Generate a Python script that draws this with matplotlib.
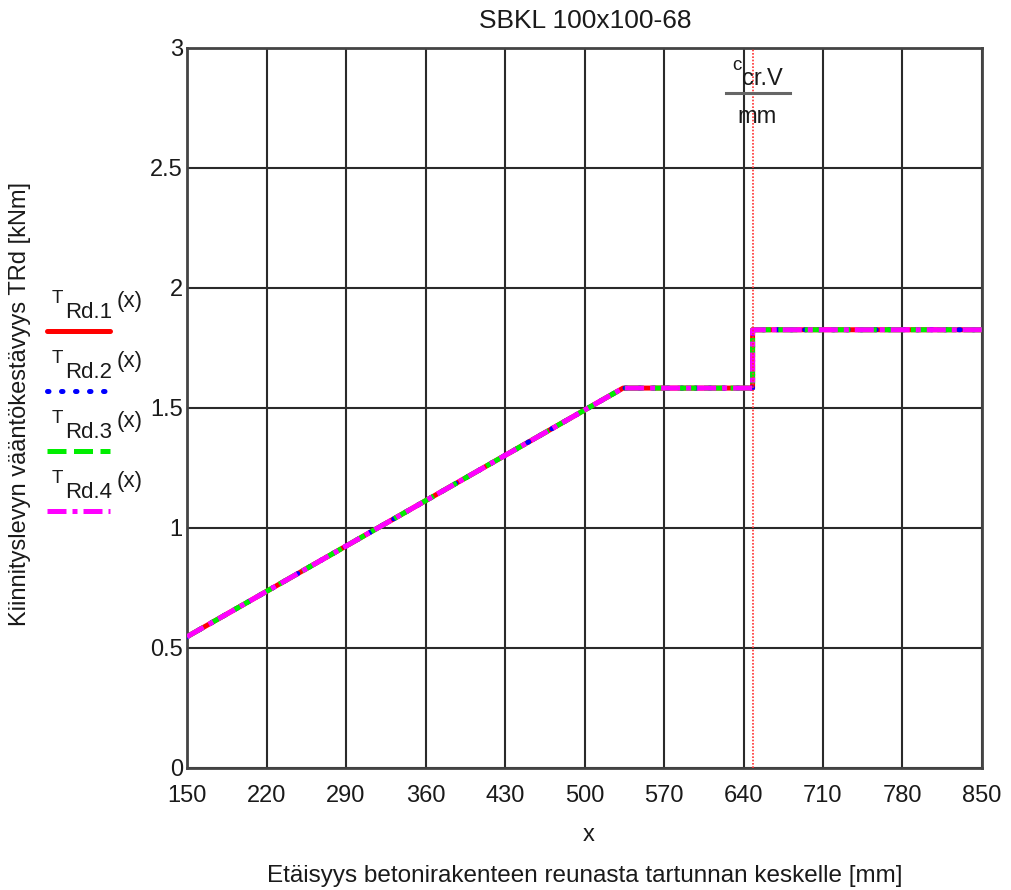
import matplotlib
matplotlib.use("Agg")
import matplotlib.pyplot as plt
from matplotlib.lines import Line2D

plt.rcParams['font.family'] = ['Liberation Sans', 'DejaVu Sans']

# Etäisyys x [mm] ja vääntökestävyydet [kNm]
x_mm = [150, 534, 648, 648, 850]
T_Rd1 = [0.547, 1.583, 1.583, 1.826, 1.826]
T_Rd2 = [0.547, 1.583, 1.583, 1.826, 1.826]
T_Rd3 = [0.547, 1.583, 1.583, 1.826, 1.826]
T_Rd4 = [0.547, 1.583, 1.583, 1.826, 1.826]
c_crV = 648

x_ticks = [150, 220, 290, 360, 430, 500, 570, 640, 710, 780, 850]
y_ticks = [0, 0.5, 1, 1.5, 2, 2.5, 3]
y_ticklabels = ["0", "0.5", "1", "1.5", "2", "2.5", "3"]

W, H = 1011, 890
fig = plt.figure(figsize=(W / 100, H / 100), dpi=100)


def fx(px):
    return px / W


def fy(py):
    return 1 - py / H


ax = fig.add_axes([fx(187), fy(768), fx(982) - fx(187), fy(48) - fy(768)])

lw = 3.6
txt = '#1a1a1a'
ax.plot(x_mm, T_Rd1, color='red', lw=lw, solid_capstyle='butt', zorder=3)
ax.plot(x_mm, T_Rd2, color='blue', lw=lw, dashes=(0.3, 2.5), dash_capstyle='round', zorder=4)
ax.plot(x_mm, T_Rd3, color='#00ee00', lw=lw, dashes=(3.8, 1.5), zorder=5)
ax.plot(x_mm, T_Rd4, color='magenta', lw=lw, dashes=(3.8, 1.2, 1.0, 1.2), zorder=6)
ax.axvline(c_crV, color='#ff3030', lw=1.2, ls=(0, (1, 1)), zorder=7)

ax.set_xlim(150, 850)
ax.set_ylim(0, 3)
ax.set_xticks(x_ticks)
ax.set_xticklabels([str(v) for v in x_ticks])
ax.set_yticks(y_ticks)
ax.set_yticklabels(y_ticklabels)
ax.tick_params(length=0, labelsize=17, colors=txt)
ax.tick_params(axis='x', pad=12)
ax.tick_params(axis='y', pad=3)
ax.grid(True, color='#2a2a2a', lw=1.5)
for s in ax.spines.values():
    s.set_color('#444444')
    s.set_linewidth(2)

# otsikko ja akselien nimet
fig.text(fx(585), fy(28), "SBKL 100x100-68", ha='center', va='baseline', fontsize=19, color=txt)
fig.text(fx(589), fy(841), "x", ha='center', va='baseline', fontsize=17, color=txt)
fig.text(fx(585), fy(882), "Etäisyys betonirakenteen reunasta tartunnan keskelle [mm]",
         ha='center', va='baseline', fontsize=17.5, color=txt)
fig.text(fx(20), fy(404), "Kiinnityslevyn vääntökestävyys TRd [kNm]", rotation=90,
         ha='center', va='center', fontsize=17, color=txt)

# c_cr.V / mm merkintä
fig.text(fx(732), fy(70), "c", ha='left', va='baseline', fontsize=13.5, color=txt)
fig.text(fx(742), fy(85), "cr.V", ha='left', va='baseline', fontsize=17, color=txt)
fig.add_artist(Line2D([fx(726), fx(790)], [fy(93), fy(93)], color='#666666', lw=2.2))
fig.text(fx(737), fy(123), "mm", ha='left', va='baseline', fontsize=17, color=txt)

# selite
styles = [
    dict(color='red', solid_capstyle='round'),
    dict(color='blue', dashes=(0.3, 2.5), dash_capstyle='round'),
    dict(color='#00ee00', dashes=(3.8, 1.5)),
    dict(color='magenta', dashes=(3.8, 1.2, 1.0, 1.2)),
]
for i, st in enumerate(styles):
    dy = 60 * i
    fig.text(fx(52), fy(303 + dy), "T", ha='left', va='baseline', fontsize=13.5, color=txt)
    fig.text(fx(65), fy(318 + dy), "Rd.%d" % (i + 1), ha='left', va='baseline',
             fontsize=16, color=txt)
    fig.text(fx(117), fy(307 + dy), "(x)", ha='left', va='baseline', fontsize=16, color=txt)
    fig.add_artist(Line2D([fx(47), fx(110)], [fy(331 + dy), fy(331 + dy)], lw=lw, **st))

fig.savefig("out.png", dpi=100)
